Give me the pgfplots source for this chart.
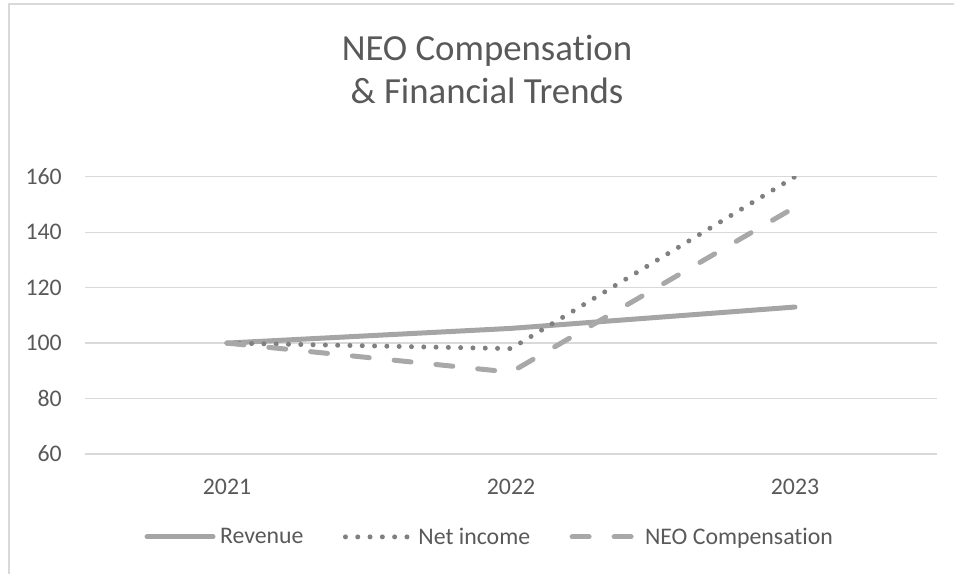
\documentclass[border=0pt]{standalone}
\usepackage{fontspec}
\setmainfont{Carlito}[Ligatures=NoCommon]
\usepackage{pgfplots}
\pgfplotsset{compat=1.18}
\definecolor{txt}{HTML}{595959}
\definecolor{gridc}{HTML}{D9D9D9}
\definecolor{revc}{HTML}{A5A5A5}
\definecolor{netc}{HTML}{808080}
\definecolor{neoc}{HTML}{A8A8A8}

\begin{document}
\begin{tikzpicture}
\useasboundingbox (0bp,0bp) rectangle (954bp,574bp);
% chart area border (left and top edges visible)
\draw[gridc, line width=1.5bp] (9bp,0bp) -- (9bp,570bp) -- (954bp,570bp);
\node[anchor=base, text=txt, inner sep=0, font=\fontsize{36.8bp}{43bp}\selectfont] at (487bp,513.3bp) {NEO Compensation};
\node[anchor=base, text=txt, inner sep=0, font=\fontsize{36.8bp}{43bp}\selectfont] at (487bp,470.7bp) {\& Financial Trends};
\begin{axis}[
    at={(85bp,120bp)}, anchor=south west,
    width=852bp, height=277.3bp, scale only axis,
    xmin=-0.5, xmax=2.5, ymin=60, ymax=160,
    xtick={0,1,2}, xticklabels={2021,2022,2023},
    ytick={60,80,...,160},
    axis line style={draw=none},
    major tick length=0pt,
    ymajorgrids, grid style={gridc, line width=1.3bp},
    tick label style={font=\fontsize{23.8bp}{28bp}\selectfont, text=txt},
    /pgf/number format/assume math mode=true,
    yticklabel style={anchor=east, inner sep=0, xshift=-23bp},
    xticklabel style={anchor=base, inner sep=0, yshift=-40bp},
    legend columns=3,
    legend style={at={(axis description cs:0.4765,-0.299)}, anchor=center,
        draw=none, fill=none, font=\fontsize{23.8bp}{28bp}\selectfont, text=txt,
        nodes={inner sep=4.5bp},
        /tikz/every even column/.append style={column sep=35bp}},
    legend image code/.code={\draw[#1] (0bp,0bp) -- (66bp,0bp);},
]
\addplot[revc, line width=5bp, line cap=round] coordinates {(0,100) (1,105.3) (2,113)};
\addlegendentry{Revenue}
\addplot[netc, line width=5bp, line cap=round, dash pattern=on 0bp off 12.3bp] coordinates {(0,100) (1,98) (2,160)};
\addlegendentry{Net income}
\addplot[neoc, line width=5bp, line cap=round, dash pattern=on 17bp off 25bp] coordinates {(0,100) (1,89.5) (2,149)};
\addlegendentry{NEO Compensation}
\end{axis}
\end{tikzpicture}
\end{document}
